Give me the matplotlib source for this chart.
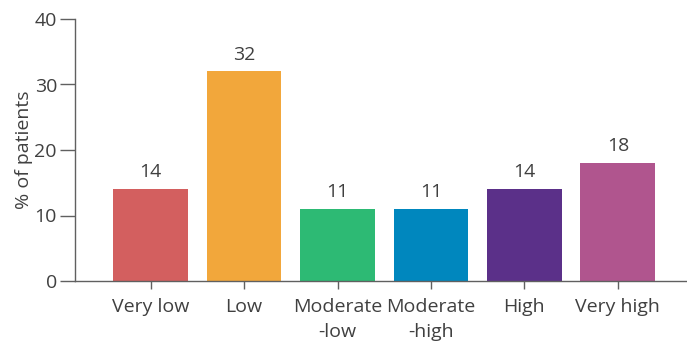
import matplotlib
matplotlib.use("Agg")
import matplotlib.pyplot as plt

categories = ["Very low", "Low", "Moderate\n-low", "Moderate\n-high", "High", "Very high"]
values = [14, 32, 11, 11, 14, 18]
colors = ["#D35F5F", "#F2A73B", "#2DBA74", "#0087BE", "#5B3089", "#B0558E"]
yticks = [0, 10, 20, 30, 40]

plt.rcParams["font.family"] = ["Open Sans", "DejaVu Sans"]
text_color = "#404040"
axis_color = "#606060"
fs = 14

fig = plt.figure(figsize=(6.87, 3.42), dpi=100)
ax = fig.add_axes([75 / 687, 61 / 342, 1 - 75 / 687, (281 - 19) / 342])

x = list(range(len(categories)))
bars = ax.bar(x, values, width=0.8, color=colors)
for xi, v in zip(x, values):
    ax.text(xi, v + 1.2, str(v), ha="center", va="bottom", fontsize=fs, color=text_color)

ax.set_xlim(-0.81, 5.74)
ax.set_ylim(0, 40)
ax.set_yticks(yticks)
ax.set_xticks(x)
ax.set_xticklabels(categories, fontsize=fs, color=text_color, linespacing=1.55)
ax.tick_params(axis="y", labelsize=fs, labelcolor=text_color, color=axis_color, length=11, width=1, pad=2)
ax.tick_params(axis="x", color=axis_color, length=6, width=1, pad=6)
ax.set_ylabel("% of patients", fontsize=fs, color=text_color, labelpad=1)

for side in ("top", "right"):
    ax.spines[side].set_visible(False)
for side in ("left", "bottom"):
    ax.spines[side].set_color(axis_color)
    ax.spines[side].set_linewidth(1)

fig.savefig("out.png", dpi=100)
